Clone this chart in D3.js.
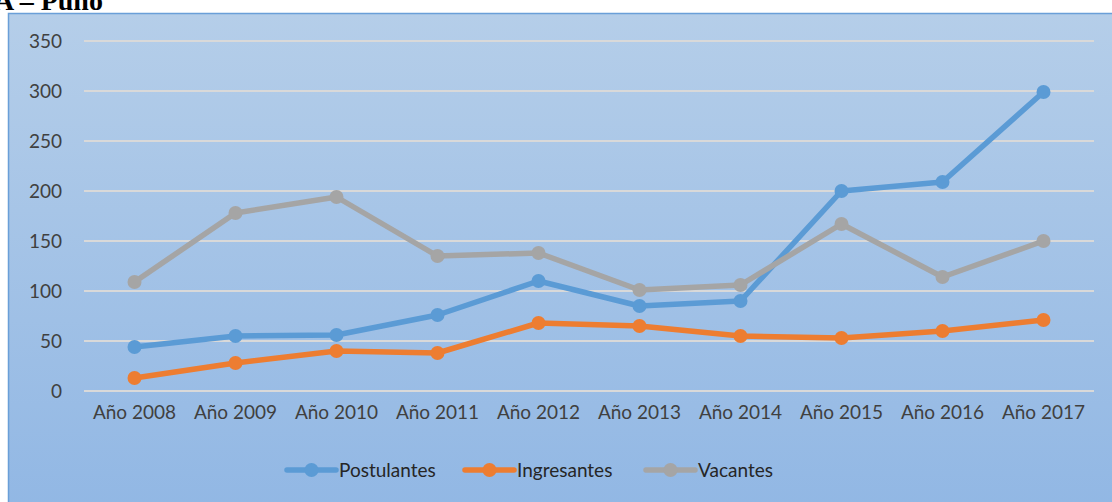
<!DOCTYPE html>
<html>
<head>
<meta charset="utf-8">
<script src="https://cdn.jsdelivr.net/npm/d3@7"></script>
<style>
  body { margin: 0; background: #fff; }
  svg { display: block; }
</style>
</head>
<body>
<div id="chart"></div>
<script>
// values
const years = ["Año 2008", "Año 2009", "Año 2010", "Año 2011", "Año 2012", "Año 2013", "Año 2014", "Año 2015", "Año 2016", "Año 2017"]
const postulantes = [44, 55, 56, 76, 110, 85, 90, 200, 209, 299]
const ingresantes = [13, 28, 40, 38, 68, 65, 55, 53, 60, 71]
const vacantes = [109, 178, 194, 135, 138, 101, 106, 167, 114, 150]
const yTicks = [0, 50, 100, 150, 200, 250, 300, 350]

const series = [
  { name: "Postulantes", values: postulantes, color: "#5b9bd5" },
  { name: "Ingresantes", values: ingresantes, color: "#ed7d31" },
  { name: "Vacantes", values: vacantes, color: "#a5a5a5" }
]

const W = 1112, H = 502
const font = "Lato, 'Open Sans', sans-serif"

const svg = d3.select("#chart").append("svg")
  .attr("width", W)
  .attr("height", H)

// background gradient of the chart area
const grad = svg.append("defs").append("linearGradient")
  .attr("id", "bg").attr("x1", 0).attr("y1", 0).attr("x2", 0).attr("y2", 1)
grad.append("stop").attr("offset", "0%").attr("stop-color", "#b5cee9")
grad.append("stop").attr("offset", "100%").attr("stop-color", "#91b7e4")

svg.append("rect")
  .attr("x", 8.5).attr("y", 13.5)
  .attr("width", W).attr("height", H)
  .attr("fill", "url(#bg)")
  .attr("stroke", "#6a9fd8")
  .attr("stroke-width", 1.5)

// title, cut off at the top like in the source
svg.append("text")
  .attr("x", -6).attr("y", 10)
  .style("font-family", "'Liberation Serif', 'Times New Roman', serif")
  .style("font-weight", "bold")
  .style("font-size", "28px")
  .attr("fill", "#000")
  .text("A – Puno")

const x = d3.scaleBand().domain(years).range([84, 1094])
const y = d3.scaleLinear().domain([0, 350]).range([391, 41])

// gridlines
svg.append("g")
  .selectAll("line")
  .data(yTicks)
  .enter()
  .append("line")
  .attr("x1", 84).attr("x2", 1094)
  .attr("y1", d => y(d)).attr("y2", d => y(d))
  .attr("stroke", "#d9d9d9")
  .attr("stroke-width", 2)

// y axis
const yAxis = svg.append("g")
  .attr("transform", "translate(70,0)")
  .call(d3.axisLeft(y).tickValues(yTicks).tickSize(0).tickPadding(8))
yAxis.select(".domain").remove()
yAxis.selectAll("text")
  .style("font-family", font)
  .style("font-size", "19px")
  .attr("fill", "#404040")

// x axis
const xAxis = svg.append("g")
  .attr("transform", "translate(0,398)")
  .call(d3.axisBottom(x).tickSize(0).tickPadding(8))
xAxis.select(".domain").remove()
xAxis.selectAll("text")
  .style("font-family", font)
  .style("font-size", "19px")
  .attr("fill", "#404040")

const cx = i => x(years[i]) + x.bandwidth() / 2

const line = d3.line()
  .x((d, i) => cx(i))
  .y(d => y(d))

series.forEach(s => {
  svg.append("path")
    .datum(s.values)
    .attr("d", line)
    .attr("fill", "none")
    .attr("stroke", s.color)
    .attr("stroke-width", 5.5)
    .attr("stroke-linejoin", "round")

  svg.append("g")
    .selectAll("circle")
    .data(s.values)
    .enter()
    .append("circle")
    .attr("cx", (d, i) => cx(i))
    .attr("cy", d => y(d))
    .attr("r", 7)
    .attr("fill", s.color)
})

// legend
const legendX = [287, 465, 646]
const legend = svg.append("g")
series.forEach((s, i) => {
  const g = legend.append("g").attr("transform", `translate(${legendX[i]},470)`)
  g.append("line")
    .attr("x1", 0).attr("x2", 49)
    .attr("y1", 0).attr("y2", 0)
    .attr("stroke", s.color)
    .attr("stroke-width", 5.5)
    .attr("stroke-linecap", "round")
  g.append("circle")
    .attr("cx", 24.5).attr("cy", 0).attr("r", 7)
    .attr("fill", s.color)
  g.append("text")
    .attr("x", 52).attr("y", 0)
    .attr("dy", "0.35em")
    .style("font-family", font)
    .style("font-size", "19px")
    .attr("fill", "#262626")
    .text(s.name)
})
</script>
</body>
</html>
